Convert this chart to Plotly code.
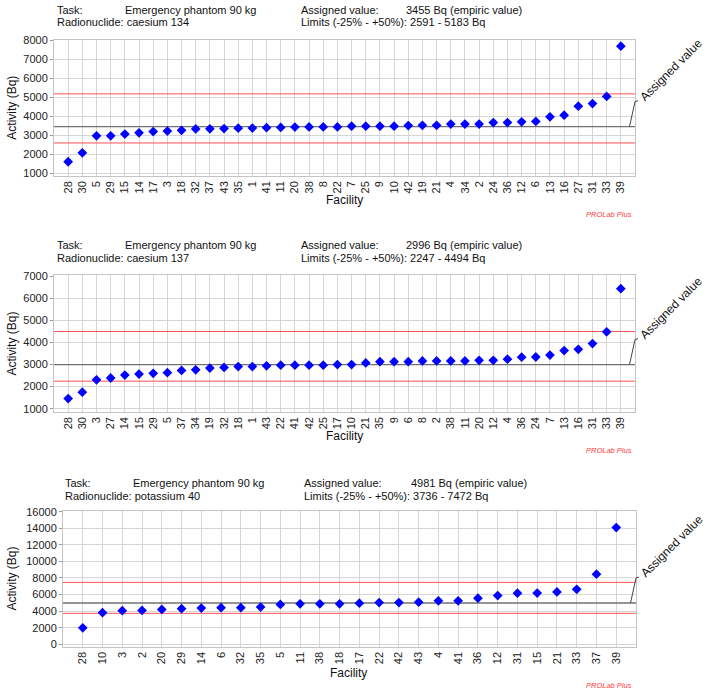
import plotly.graph_objects as go

W, H = 708, 696

# ---------------- data ----------------
fac1 = [28, 30, 5, 29, 15, 14, 17, 3, 18, 32, 37, 43, 35, 1, 41, 11, 20, 38, 8, 22,
        7, 25, 9, 10, 42, 19, 21, 4, 34, 2, 24, 36, 12, 6, 13, 16, 27, 31, 33, 39]
val1 = [1600, 2070, 2970, 2970, 3060, 3130, 3190, 3220, 3260, 3330, 3340, 3350, 3370, 3380,
        3400, 3410, 3430, 3440, 3440, 3440, 3480, 3480, 3480, 3480, 3510, 3520, 3520, 3590,
        3590, 3590, 3670, 3670, 3710, 3730, 3970, 4060, 4530, 4670, 5050, 7700]

fac2 = [28, 30, 3, 27, 14, 15, 29, 5, 37, 34, 19, 32, 18, 1, 43, 22, 41, 42, 25, 17,
        10, 21, 35, 9, 6, 8, 2, 38, 11, 20, 12, 4, 36, 24, 7, 13, 16, 31, 33, 39]
val2 = [1460, 1750, 2310, 2390, 2520, 2570, 2600, 2630, 2730, 2760, 2840, 2870, 2910, 2910,
        2940, 2970, 2970, 2970, 2970, 3000, 3000, 3070, 3130, 3130, 3130, 3160, 3160, 3160,
        3160, 3190, 3190, 3240, 3330, 3340, 3430, 3630, 3690, 3950, 4480, 6430]

fac3 = [28, 10, 3, 2, 20, 29, 14, 6, 32, 35, 5, 11, 38, 18, 17, 22, 42, 43, 4, 41,
        36, 12, 31, 15, 21, 33, 37, 39]
val3 = [1990, 3810, 4050, 4090, 4210, 4290, 4370, 4410, 4410, 4490, 4810, 4880, 4880, 4880,
        4960, 5040, 5040, 5080, 5240, 5240, 5560, 5880, 6170, 6180, 6310, 6630, 8460, 14090]

nuclides = ["caesium 134", "caesium 137", "potassium 40"]
assigned = [3455, 2996, 4981]
lower = [2591, 2247, 3736]
upper = [5183, 4494, 7472]
task = "Emergency phantom 90 kg"

# ---------------- layout geometry (pixels) ----------------
panels = [
    dict(fac=fac1, val=val1, left=54, right=635, top=35, bottom=173,
         yr=[860, 8050], dtick=1000, hx=[55, 123, 299, 404], hy=[5, 17],
         ytitle=104, xtitle=(344, 198), prolab=212),
    dict(fac=fac2, val=val2, left=54, right=635, top=274, bottom=412,
         yr=[866, 7030], dtick=1000, hx=[55, 123, 299, 404], hy=[243, 256],
         ytitle=343, xtitle=(344, 437), prolab=451),
    dict(fac=fac3, val=val3, left=63, right=636, top=512.5, bottom=650,
         yr=[-280, 16100], dtick=2000, hx=[63, 131, 302, 409], hy=[484, 497],
         ytitle=581, xtitle=(348, 677), prolab=689),
]

FONT = "Liberation Sans, Arial, sans-serif"
fig = go.Figure()
shapes = []
annotations = []

def px(x):
    return x / W

def py(y):
    return 1 - y / H

for i, p in enumerate(panels):
    k = "" if i == 0 else str(i + 1)
    xa, ya = "x" + k, "y" + k
    n = len(p["fac"])
    # limit lines (red) and assigned value line (gray)
    for v, c, wdt in [(upper[i], "#ff5050", 1), (lower[i], "#ff5050", 1),
                      (assigned[i], "#707070", 1.4)]:
        fig.add_trace(go.Scatter(x=[-1, n], y=[v, v], mode="lines", xaxis=xa, yaxis=ya,
                                 line=dict(color=c, width=wdt), showlegend=False,
                                 hoverinfo="skip"))
    fig.add_trace(go.Scatter(
        x=list(range(n)), y=p["val"], mode="markers", xaxis=xa, yaxis=ya,
        marker=dict(symbol="diamond", size=7.5, color="#0000ff",
                    line=dict(width=0)),
        showlegend=False, hoverinfo="y"))
    axis_common = dict(showline=True, mirror=True, linecolor="#c4c4c4", linewidth=1,
                       showgrid=True, gridcolor="#d6d6d6", gridwidth=1, zeroline=False)
    fig.update_layout(**{
        ("xaxis" + k): dict(domain=[px(p["left"]), px(p["right"])], anchor=ya,
                            range=[-1, n], tickmode="array",
                            tickvals=list(range(n)), ticktext=[str(f) for f in p["fac"]],
                            tickangle=-90, tickfont=dict(family=FONT, size=11, color="#222"),
                            ticks="", **axis_common),
        ("yaxis" + k): dict(domain=[py(p["bottom"]), py(p["top"])], anchor=xa,
                            range=p["yr"], tick0=0, dtick=p["dtick"], tickformat="d",
                            tickfont=dict(family=FONT, size=11, color="#222"),
                            ticks="outside", ticklen=3, tickcolor="#999",
                            **axis_common),
    })
    # leader line for "Assigned value"
    shapes.append(dict(type="line", xref="paper", yref=ya, ysizemode="pixel",
                       yanchor=assigned[i], x0=px(p["right"] - 5.5), x1=px(p["right"]),
                       y0=0, y1=25, line=dict(color="#444", width=1)))
    shapes.append(dict(type="line", xref="paper", yref=ya, ysizemode="pixel",
                       yanchor=assigned[i], x0=px(p["right"]), x1=px(p["right"] + 3),
                       y0=25, y1=26, line=dict(color="#444", width=1)))
    annotations.append(dict(text="Assigned value", xref="paper", yref=ya,
                            x=px(p["right"] + 36), y=assigned[i], yshift=57,
                            xanchor="center", yanchor="middle", textangle=-45,
                            showarrow=False, font=dict(family=FONT, size=12, color="#111")))
    # headers
    hx, hy = p["hx"], p["hy"]
    hdr = [("Task:", hx[0], hy[0]), (task, hx[1], hy[0]),
           ("Radionuclide: " + nuclides[i], hx[0], hy[1]),
           ("Assigned value:", hx[2], hy[0]),
           (f"{assigned[i]} Bq (empiric value)", hx[3], hy[0]),
           (f"Limits (-25% - +50%): {lower[i]} - {upper[i]} Bq", hx[2], hy[1])]
    for t, x, y in hdr:
        annotations.append(dict(text=t, xref="paper", yref="paper", x=px(x), y=py(y),
                                xanchor="left", yanchor="middle", showarrow=False,
                                font=dict(family=FONT, size=11, color="#111")))
    # axis titles
    annotations.append(dict(text="Activity (Bq)", xref="paper", yref="paper",
                            x=px(12), y=py(p["ytitle"]), textangle=-90,
                            xanchor="center", yanchor="middle", showarrow=False,
                            font=dict(family=FONT, size=12, color="#111")))
    annotations.append(dict(text="Facility", xref="paper", yref="paper",
                            x=px(p["xtitle"][0]), y=py(p["xtitle"][1]),
                            xanchor="center", yanchor="middle", showarrow=False,
                            font=dict(family=FONT, size=12, color="#111")))
    annotations.append(dict(text="PROLab Plus", xref="paper", yref="paper",
                            x=px(634), y=py(p["prolab"]),
                            xanchor="right", yanchor="middle", showarrow=False,
                            font=dict(family=FONT, size=7.5, color="#ff3b3b",
                                      style="italic")))

fig.update_layout(width=W, height=H, margin=dict(l=0, r=0, t=0, b=0),
                  paper_bgcolor="white", plot_bgcolor="white",
                  shapes=shapes, annotations=annotations, showlegend=False)

fig.write_html("out.html")
